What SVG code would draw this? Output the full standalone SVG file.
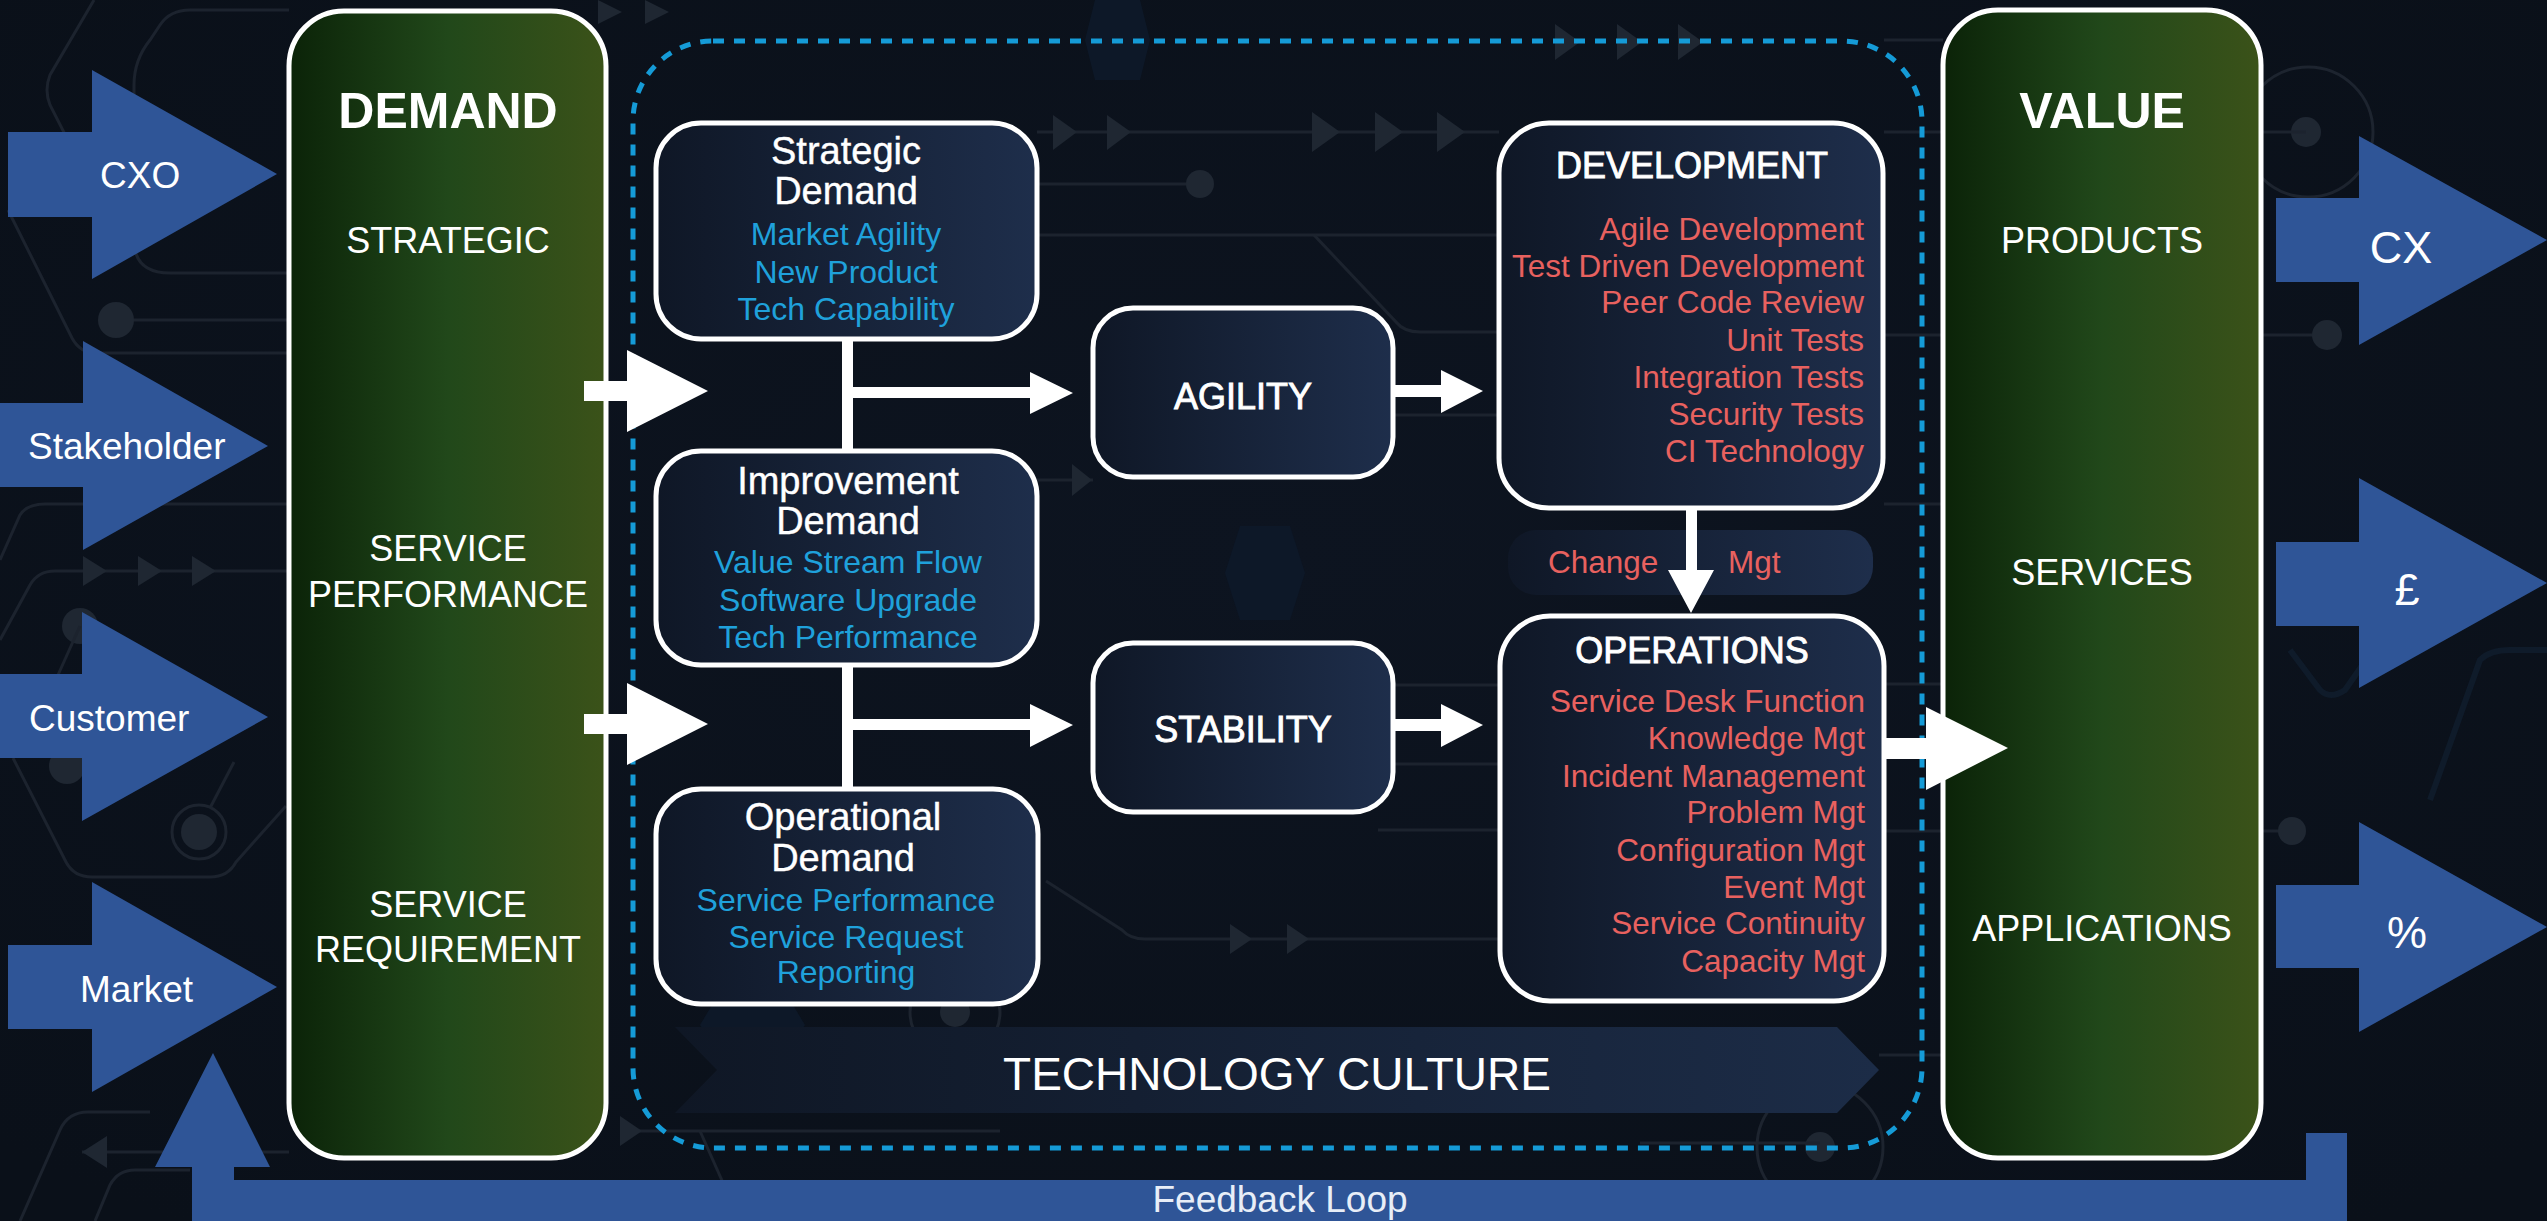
<svg xmlns="http://www.w3.org/2000/svg" width="2547" height="1221" viewBox="0 0 2547 1221">
  <defs>
    <linearGradient id="gGreen" x1="0" y1="0" x2="1" y2="0">
      <stop offset="0" stop-color="#0b2308"/>
      <stop offset="0.5" stop-color="#21481a"/>
      <stop offset="1" stop-color="#3b5219"/>
    </linearGradient>
    <linearGradient id="gNode" x1="0" y1="0" x2="1" y2="0">
      <stop offset="0" stop-color="#0f1726"/>
      <stop offset="1" stop-color="#1e2e4b"/>
    </linearGradient>
    <linearGradient id="gBanner" x1="0" y1="0" x2="1" y2="0">
      <stop offset="0" stop-color="#0f1725"/>
      <stop offset="1" stop-color="#1c2c47"/>
    </linearGradient>
    <radialGradient id="gBg" cx="0.5" cy="0.45" r="0.7">
      <stop offset="0" stop-color="#0d1420"/>
      <stop offset="1" stop-color="#0a1019"/>
    </radialGradient>
  </defs>
  <style>
    text { font-family: "Liberation Sans", Arial, Helvetica, sans-serif; }
    .wire { fill: none; stroke: #1c232e; stroke-width: 3; }
    .pad { fill: #1f2732; }
    .ring { fill: none; stroke: #1d242f; stroke-width: 3; }
    .hex { fill: #0d1828; }
    .col { fill: url(#gGreen); stroke: #ffffff; stroke-width: 5; }
    .node { fill: url(#gNode); stroke: #ffffff; stroke-width: 5; }
    .flow { fill: #2f5597; }
    .link { fill: #ffffff; }
    .boundary { fill: none; stroke: #159bd7; stroke-width: 5; stroke-dasharray: 11 10; }
    .w { fill: #ffffff; }
    .big { font-size: 50px; font-weight: bold; text-anchor: middle; }
    .lvl { font-size: 36px; text-anchor: middle; }
    .hd { font-size: 36px; text-anchor: middle; stroke: #ffffff; stroke-width: 0.9; }
    .src { font-size: 37px; }
    .out { font-size: 45px; text-anchor: middle; }
    .ttl { font-size: 38px; text-anchor: middle; stroke: #ffffff; stroke-width: 0.4; }
    .blue { fill: #1fa1db; font-size: 32px; text-anchor: middle; }
    .red { fill: #e8615f; font-size: 31.5px; text-anchor: end; }
    .redc { fill: #e8615f; font-size: 31.5px; }
  </style>

  <!-- backdrop with faint circuit traces -->
  <g id="backdrop">
    <rect x="0" y="0" width="2547" height="1221" fill="url(#gBg)"/>
    <polygon class="hex" points="1095,0 1140,0 1150,40 1140,80 1095,80 1085,40"/>
    <polygon class="hex" points="1240,526 1290,526 1305,573 1290,620 1240,620 1225,573"/>
    <polygon class="hex" points="715,1000 790,1000 805,1025 790,1050 715,1050 700,1025"/>
    <path class="wire" d="M289 273 L170 273 Q134 273 134 240 L134 85 Q134 60 150 40 L160 25 Q170 10 190 10 L289 10"/>
    <path class="wire" d="M94 0 L50 75 Q44 90 50 105 L78 160"/>
    <path class="wire" d="M8 210 L72 338 Q80 353 96 353 L289 353"/>
    <path class="wire" d="M116 320 L289 320"/>
    <circle class="pad" cx="116" cy="320" r="18"/>
    <path class="wire" d="M0 560 L20 515 Q27 504 45 504 L289 504"/>
    <path class="wire" d="M0 640 L30 585 Q38 571 55 571 L289 571"/>
    <polygon class="pad" points="83,556 107,571 83,586"/>
    <polygon class="pad" points="138,556 162,571 138,586"/>
    <polygon class="pad" points="192,556 216,571 192,586"/>
    <circle class="pad" cx="80" cy="626" r="18"/>
    <path class="wire" d="M80 626 L58 675"/>
    <circle class="pad" cx="67" cy="766" r="18"/>
    <circle class="ring" cx="199" cy="832" r="27"/>
    <circle class="pad" cx="199" cy="832" r="18"/>
    <path class="wire" d="M210 808 L234 762"/>
    <path class="wire" d="M13 758 L66 862 Q74 877 92 877 L210 877 Q228 877 236 862 L286 806"/>
    <path class="wire" d="M289 1152 L82 1152"/>
    <polygon class="pad" points="107,1136 82,1152 107,1168"/>
    <path class="wire" d="M20 1221 L60 1130 Q68 1112 88 1112 L150 1112"/>
    <path class="wire" d="M95 1221 L110 1185 Q118 1170 135 1170 L190 1170"/>
    <polygon class="pad" points="598,0 622,12 598,24"/>
    <polygon class="pad" points="645,0 669,12 645,24"/>
    <polygon class="pad" points="1555,24 1580,42 1555,60"/>
    <polygon class="pad" points="1617,24 1642,42 1617,60"/>
    <polygon class="pad" points="1678,24 1703,42 1678,60"/>
    <path class="wire" d="M1037 132 L1499 132"/>
    <polygon class="pad" points="1053,115 1077,132 1053,150"/>
    <polygon class="pad" points="1107,115 1131,132 1107,150"/>
    <polygon class="pad" points="1312,112 1340,132 1312,152"/>
    <polygon class="pad" points="1375,112 1403,132 1375,152"/>
    <polygon class="pad" points="1437,112 1465,132 1437,152"/>
    <path class="wire" d="M1037 184 L1200 184"/>
    <circle class="pad" cx="1200" cy="184" r="14"/>
    <path class="wire" d="M1037 235 L1499 235"/>
    <path class="wire" d="M1314 235 L1396 322 Q1404 332 1420 332 L1499 332"/>
    <path class="wire" d="M1393 415 L1499 415"/>
    <path class="wire" d="M1037 480 L1093 480"/>
    <polygon class="pad" points="1072,464 1092,480 1072,496"/>
    <path class="wire" d="M1393 685 L1500 685"/>
    <path class="wire" d="M1393 764 L1500 764"/>
    <path class="wire" d="M1378 830 L1500 830"/>
    <path class="wire" d="M1046 881 L1122 930 Q1130 939 1145 939 L1500 939"/>
    <polygon class="pad" points="1230,924 1252,939 1230,954"/>
    <polygon class="pad" points="1287,924 1309,939 1287,954"/>
    <circle class="ring" cx="955" cy="1012" r="45"/>
    <circle class="pad" cx="955" cy="1012" r="15"/>
    <path class="wire" d="M620 1131 L1000 1131"/>
    <polygon class="pad" points="620,1116 642,1131 620,1146"/>
    <path class="wire" d="M700 1131 L740 1221"/>
    <circle class="ring" cx="1820" cy="1147" r="63"/>
    <circle class="pad" cx="1820" cy="1147" r="15"/>
    <path class="wire" d="M1640 1143 L1820 1143"/>
    <path class="wire" d="M1879 1055 L1943 1055"/>
    <path class="wire" d="M1884 40 L1943 40"/>
    <path class="wire" d="M1884 132 L1943 132"/>
    <path class="wire" d="M1884 335 L1943 335"/>
    <path class="wire" d="M1884 504 L1943 504"/>
    <path class="wire" d="M1884 684 L1943 684"/>
    <path class="wire" d="M1884 831 L1943 831"/>
    <circle class="ring" cx="2308" cy="132" r="65"/>
    <circle class="pad" cx="2306" cy="132" r="15"/>
    <path class="wire" d="M2262 132 L2306 132"/>
    <path class="wire" d="M2262 335 L2327 335"/>
    <circle class="pad" cx="2327" cy="335" r="15"/>
    <path class="wire" d="M2262 831 L2292 831"/>
    <circle class="pad" cx="2292" cy="831" r="14"/>
    <path d="M2290 650 L2320 690 Q2330 700 2345 690 L2380 640 M2430 800 L2480 660 Q2490 650 2510 650 L2547 650" fill="none" stroke="#0f1b2a" stroke-width="6"/>
  </g>

  <!-- technology boundary -->
  <rect id="tech-boundary" class="boundary" x="633" y="41" width="1289" height="1107" rx="80" ry="80"/>

  <!-- technology culture banner -->
  <g id="technology-culture">
    <polygon points="675,1027 1837,1027 1879,1070 1837,1113 675,1113 717,1070" fill="url(#gBanner)"/>
    <text x="1277" y="1090" class="w" font-size="46" text-anchor="middle">TECHNOLOGY CULTURE</text>
  </g>

  <!-- change management band -->
  <g id="change-mgt">
    <rect x="1508" y="530" width="365" height="65" rx="28" ry="28" fill="url(#gNode)"/>
    <text x="1548" y="573" class="redc">Change</text>
    <text x="1728" y="573" class="redc">Mgt</text>
  </g>

  <!-- demand column -->
  <g id="demand">
    <rect class="col" x="289" y="11" width="317" height="1147" rx="55" ry="55"/>
    <text x="448" y="128" class="w big">DEMAND</text>
    <text x="448" y="253" class="w lvl">STRATEGIC</text>
    <text x="448" y="561" class="w lvl">SERVICE</text>
    <text x="448" y="607" class="w lvl">PERFORMANCE</text>
    <text x="448" y="917" class="w lvl">SERVICE</text>
    <text x="448" y="962" class="w lvl">REQUIREMENT</text>
  </g>

  <!-- value column -->
  <g id="value">
    <rect class="col" x="1943" y="10" width="318" height="1148" rx="55" ry="55"/>
    <text x="2102" y="128" class="w big">VALUE</text>
    <text x="2102" y="253" class="w lvl">PRODUCTS</text>
    <text x="2102" y="585" class="w lvl">SERVICES</text>
    <text x="2102" y="941" class="w lvl">APPLICATIONS</text>
  </g>

  <!-- connectors -->
  <g id="connectors">
    <!-- demand into technology -->
    <polygon class="link" points="584,381 627,381 627,350 708,391 627,432 627,401 584,401"/>
    <polygon class="link" points="584,714 627,714 627,683 708,724 627,765 627,734 584,734"/>
    <!-- demand boxes trunk -->
    <rect class="link" x="842" y="336" width="11" height="456"/>
    <polygon class="link" points="847,387 1030,387 1030,372 1073,393 1030,414 1030,398 847,398"/>
    <polygon class="link" points="847,719 1030,719 1030,704 1073,725 1030,747 1030,730 847,730"/>
    <!-- agility / stability to development / operations -->
    <polygon class="link" points="1391,385 1441,385 1441,370 1483,391 1441,413 1441,397 1391,397"/>
    <polygon class="link" points="1391,719 1441,719 1441,704 1483,725 1441,747 1441,731 1391,731"/>
    <!-- development to operations -->
    <polygon class="link" points="1686,506 1697,506 1697,570 1714,570 1691,613 1668,570 1686,570"/>
    <!-- operations to value -->
    <polygon class="link" points="1882,738 1926,738 1926,707 2008,748 1926,790 1926,759 1882,759"/>
  </g>

  <!-- demand sources -->
  <g id="src-cxo">
    <polygon class="flow" points="8,132 92,132 92,70 277,174 92,279 92,217 8,217"/>
    <text x="100" y="188" class="w src">CXO</text>
  </g>
  <g id="src-stakeholder">
    <polygon class="flow" points="0,403 83,403 83,341 268,446 83,550 83,487 0,487"/>
    <text x="28" y="459" class="w src" font-size="38">Stakeholder</text>
  </g>
  <g id="src-customer">
    <polygon class="flow" points="0,674 82,674 82,612 268,717 82,821 82,758 0,758"/>
    <text x="29" y="731" class="w src">Customer</text>
  </g>
  <g id="src-market">
    <polygon class="flow" points="8,945 92,945 92,882 277,987 92,1092 92,1029 8,1029"/>
    <text x="80" y="1002" class="w src">Market</text>
  </g>

  <!-- value outcomes -->
  <g id="out-cx">
    <polygon class="flow" points="2276,198 2359,198 2359,136 2547,240 2359,345 2359,282 2276,282"/>
    <text x="2401" y="263" class="w out">CX</text>
  </g>
  <g id="out-pound">
    <polygon class="flow" points="2276,542 2359,542 2359,478 2547,583 2359,688 2359,626 2276,626"/>
    <text x="2407" y="605" class="w out">£</text>
  </g>
  <g id="out-percent">
    <polygon class="flow" points="2276,885 2359,885 2359,822 2547,927 2359,1032 2359,968 2276,968"/>
    <text x="2407" y="948" class="w out">%</text>
  </g>

  <!-- feedback loop -->
  <g id="feedback-loop">
    <path class="flow" d="M192 1221 L192 1167 L155 1167 L213 1053 L270 1167 L234 1167 L234 1180 L2306 1180 L2306 1133 L2347 1133 L2347 1221 Z"/>
    <text x="1280" y="1212" fill="#e8eef7" font-size="37" text-anchor="middle">Feedback Loop</text>
  </g>

  <!-- demand types -->
  <g id="strategic-demand">
    <rect class="node" x="656" y="123" width="381" height="216" rx="45" ry="45"/>
    <text x="846" y="164" class="w ttl">Strategic</text>
    <text x="846" y="204" class="w ttl">Demand</text>
    <text x="846" y="245" class="blue">Market Agility</text>
    <text x="846" y="283" class="blue">New Product</text>
    <text x="846" y="320" class="blue">Tech Capability</text>
  </g>
  <g id="improvement-demand">
    <rect class="node" x="656" y="451" width="381" height="214" rx="45" ry="45"/>
    <text x="848" y="494" class="w ttl">Improvement</text>
    <text x="848" y="534" class="w ttl">Demand</text>
    <text x="848" y="573" class="blue">Value Stream Flow</text>
    <text x="848" y="611" class="blue">Software Upgrade</text>
    <text x="848" y="648" class="blue">Tech Performance</text>
  </g>
  <g id="operational-demand">
    <rect class="node" x="656" y="789" width="382" height="215" rx="45" ry="45"/>
    <text x="843" y="830" class="w ttl">Operational</text>
    <text x="843" y="871" class="w ttl">Demand</text>
    <text x="846" y="911" class="blue">Service Performance</text>
    <text x="846" y="948" class="blue">Service Request</text>
    <text x="846" y="983" class="blue">Reporting</text>
  </g>

  <!-- outcomes -->
  <g id="agility">
    <rect class="node" x="1093" y="308" width="300" height="169" rx="40" ry="40"/>
    <text x="1243" y="409" class="w hd">AGILITY</text>
  </g>
  <g id="stability">
    <rect class="node" x="1093" y="643" width="300" height="169" rx="40" ry="40"/>
    <text x="1243" y="742" class="w hd">STABILITY</text>
  </g>

  <!-- delivery functions -->
  <g id="development">
    <rect class="node" x="1499" y="123" width="384" height="385" rx="50" ry="50"/>
    <text x="1692" y="178" class="w hd">DEVELOPMENT</text>
    <text x="1864" y="240" class="red">Agile Development</text>
    <text x="1864" y="277" class="red">Test Driven Development</text>
    <text x="1864" y="313" class="red">Peer Code Review</text>
    <text x="1864" y="351" class="red">Unit Tests</text>
    <text x="1864" y="388" class="red">Integration Tests</text>
    <text x="1864" y="425" class="red">Security Tests</text>
    <text x="1864" y="462" class="red">CI Technology</text>
  </g>
  <g id="operations">
    <rect class="node" x="1500" y="616" width="384" height="385" rx="50" ry="50"/>
    <text x="1692" y="663" class="w hd">OPERATIONS</text>
    <text x="1865" y="712" class="red">Service Desk Function</text>
    <text x="1865" y="749" class="red">Knowledge Mgt</text>
    <text x="1865" y="787" class="red">Incident Management</text>
    <text x="1865" y="823" class="red">Problem Mgt</text>
    <text x="1865" y="861" class="red">Configuration Mgt</text>
    <text x="1865" y="898" class="red">Event Mgt</text>
    <text x="1865" y="934" class="red">Service Continuity</text>
    <text x="1865" y="972" class="red">Capacity Mgt</text>
  </g>
</svg>
